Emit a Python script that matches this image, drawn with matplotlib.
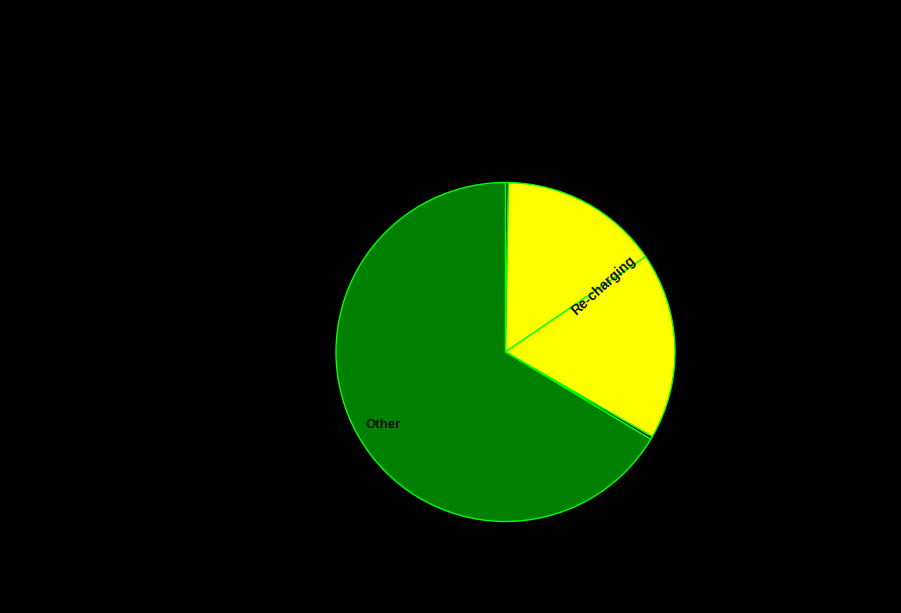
import numpy as np
import matplotlib
matplotlib.use("Agg")
import matplotlib.pyplot as plt

# slice data (clockwise from 12 o'clock), values in degrees of the full circle
slice_labels = ["", "", "Re-charging", "", "Other"]
slice_values = [1.0, 54.8, 64.2, 1.0, 239.0]
slice_colors = ["#000000", "#ffff00", "#ffff00", "#000000", "#008000"]

W, H = 901, 613
fig = plt.figure(figsize=(W / 100, H / 100), dpi=100, facecolor="black")
cx, cy, r = 505.5, 352.0, 169.5
ax = fig.add_axes([(cx - r) / W, (H - cy - r) / H, 2 * r / W, 2 * r / H])
ax.set_facecolor("black")
ax.axis("off")

wedges, _ = ax.pie(slice_values, colors=slice_colors, startangle=90, counterclock=False,
                   radius=1.0, wedgeprops=dict(edgecolor="#00ff00", linewidth=1.0))
ax.set_xlim(-1, 1)
ax.set_ylim(-1, 1)
ax.set_aspect("auto")

total = sum(slice_values)
cum = np.cumsum([0] + slice_values)
# "Re-charging" sits on the boundary between the two yellow slices
ang_rc = np.deg2rad(90 - 360 * cum[2] / total)
ax.text(0.70 * np.cos(ang_rc), 0.70 * np.sin(ang_rc), slice_labels[2], rotation=42,
        rotation_mode="anchor", ha="center", va="center", fontsize=10,
        family="Liberation Sans", fontweight="bold", color="#111111")
# "Other" at the middle of its slice
ang_o = np.deg2rad(90 - 360 * (cum[4] + cum[5]) / 2 / total)
ax.annotate(slice_labels[4], (0.84 * np.cos(ang_o), 0.84 * np.sin(ang_o)),
            xytext=(1, -2), textcoords="offset points",
            ha="center", va="center", fontsize=9.5, family="Liberation Sans",
            fontweight="bold", color="#111111")

fig.savefig("out.png", dpi=100, facecolor="black")
